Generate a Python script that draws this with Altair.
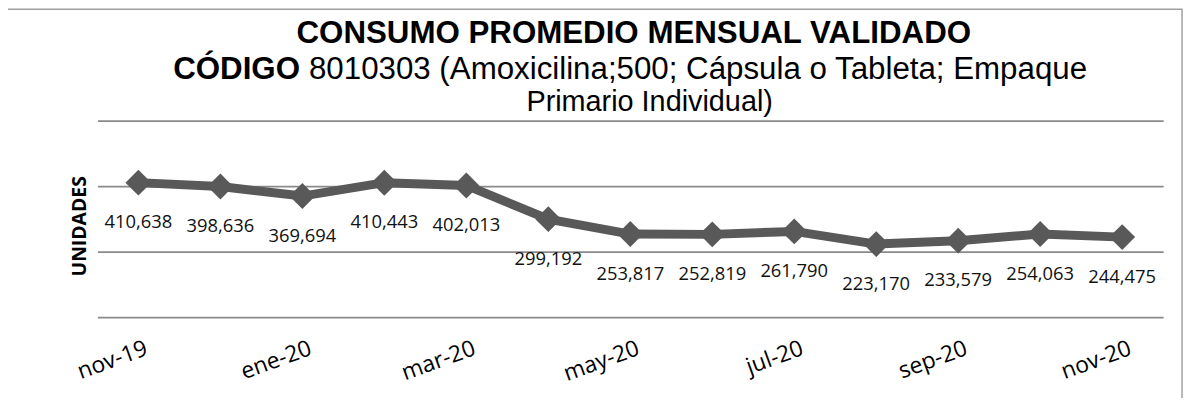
import altair as alt
import pandas as pd

months = ["nov-19", "dic-19", "ene-20", "feb-20", "mar-20", "abr-20", "may-20",
          "jun-20", "jul-20", "ago-20", "sep-20", "oct-20", "nov-20"]
values = [410638, 398636, 369694, 410443, 402013, 299192, 253817,
          252819, 261790, 223170, 233579, 254063, 244475]
shown_months = ["nov-19", "ene-20", "mar-20", "may-20", "jul-20", "sep-20", "nov-20"]
y_ticks = [0, 200000, 400000, 600000]

title_line1 = "CONSUMO PROMEDIO MENSUAL VALIDADO"
title_bold = "CÓDIGO"
title_line2 = "8010303 (Amoxicilina;500; Cápsula o Tableta; Empaque"
title_line3 = "Primario Individual)"
y_title = "UNIDADES"

df = pd.DataFrame({"mes": months, "valor": values})
one = pd.DataFrame({"k": [0]})

LINE = "#595959"
W, H = 1073, 198

x_enc = alt.X("mes:O", sort=months, scale=alt.Scale(paddingInner=0, paddingOuter=0),
              axis=alt.Axis(values=shown_months, title=None, domain=False, ticks=False,
                            grid=False, labelAngle=340, labelAlign="right",
                            labelBaseline="top", labelPadding=20, labelOffset=4,
                            labelFont="Open Sans", labelFontSize=23, labelColor="#000000"))
y_enc = alt.Y("valor:Q", scale=alt.Scale(domain=[0, 600000], nice=False, zero=True),
              axis=alt.Axis(values=y_ticks, labels=False, ticks=False, domain=False,
                            grid=True, gridColor="#8a8a8a", gridWidth=1.8,
                            title=y_title, titleFont="Open Sans", titleFontSize=19.5,
                            titleFontWeight="bold", titleColor="#000000", titlePadding=8,
                            titleY=106))

base = alt.Chart(df).encode(x=x_enc, y=y_enc)

line = base.mark_line(color=LINE, strokeWidth=9)
pts = base.mark_point(shape="diamond", filled=True, size=680, color=LINE, opacity=1)
lbl = base.mark_text(dy=40, font="Open Sans", fontSize=18.5, color="#111111",
                     baseline="middle").encode(text=alt.Text("valor:Q", format=","))

border = alt.Chart(one).mark_rect(fill=None, stroke="#a0a0a0", strokeWidth=1.5).encode(
    x=alt.value(-91), x2=alt.value(1092), y=alt.value(-112), y2=alt.value(300))

TF = "Liberation Sans"
t1 = alt.Chart(one).mark_text(text=title_line1, font=TF, fontSize=31.5,
                              fontWeight="bold", align="center", baseline="alphabetic",
                              color="#000000").encode(x=alt.value(540), y=alt.value(-78))
t2a = alt.Chart(one).mark_text(text=title_bold, font=TF, fontSize=31.5,
                               fontWeight="bold", align="right", baseline="alphabetic",
                               color="#000000").encode(x=alt.value(204), y=alt.value(-42))
t2b = alt.Chart(one).mark_text(text=title_line2, font=TF, fontSize=31.5,
                               align="left", baseline="alphabetic",
                               color="#000000").encode(x=alt.value(213), y=alt.value(-42))
t3 = alt.Chart(one).mark_text(text=title_line3, font=TF, fontSize=29,
                              align="center", baseline="alphabetic",
                              color="#000000").encode(x=alt.value(556), y=alt.value(-10))

chart = alt.layer(border, line, pts, lbl, t1, t2a, t2b, t3).properties(
    width=W, height=H,
    autosize=alt.AutoSizeParams(type="none"),
    padding={"left": 90, "top": 112, "right": 26, "bottom": 80},
    background="white",
).configure_view(stroke=None)

chart.save("out.html", embed_options={"renderer": "svg", "actions": False})
